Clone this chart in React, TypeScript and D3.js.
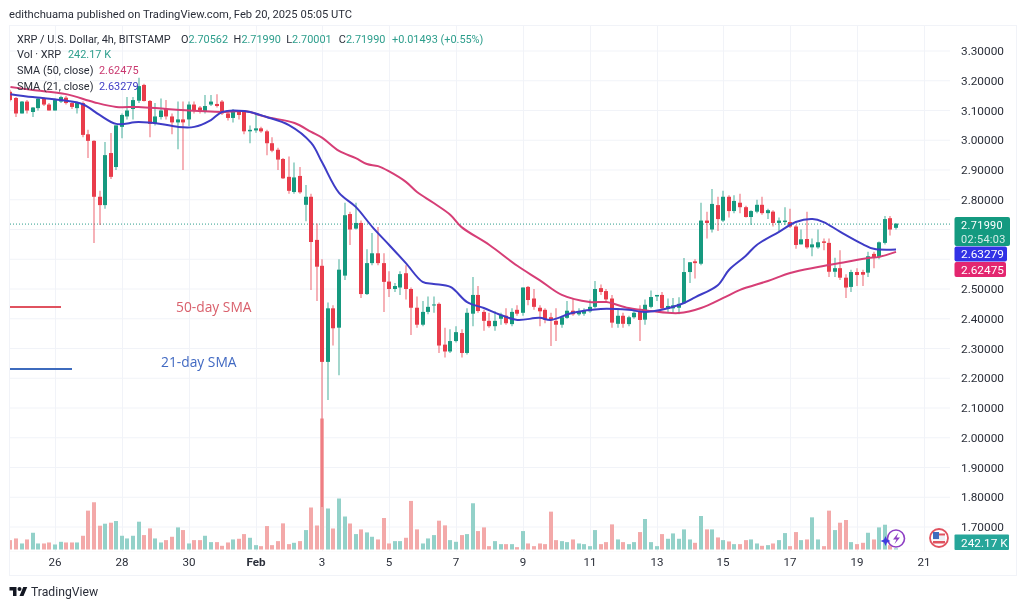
import React, { useEffect } from "react";
import * as d3 from "d3";

const opens = [3.163,3.142,3.09,3.13,3.095,3.108,3.14,3.12,3.10,3.13,3.143,3.125,3.108,3.125,3.02,2.998,2.81,2.782,2.957,2.91,3.045,3.08,3.105,3.133,3.186,3.132,3.055,3.078,3.105,3.08,3.06,3.07,3.07,3.12,3.11,3.095,3.12,3.122,3.13,3.09,3.075,3.095,3.095,3.03,3.033,3.04,3.03,2.99,2.968,2.937,2.877,2.826,2.88,2.783,2.81,2.665,2.578,2.255,2.435,2.37,2.545,2.752,2.703,2.722,2.483,2.587,2.62,2.587,2.525,2.50,2.505,2.553,2.50,2.437,2.38,2.423,2.445,2.45,2.313,2.29,2.325,2.352,2.285,2.417,2.48,2.423,2.393,2.375,2.40,2.41,2.382,2.43,2.42,2.507,2.468,2.437,2.43,2.405,2.393,2.38,2.403,2.427,2.415,2.417,2.425,2.44,2.503,2.493,2.468,2.383,2.41,2.382,2.405,2.425,2.397,2.44,2.475,2.48,2.433,2.435,2.437,2.452,2.557,2.593,2.585,2.73,2.70,2.782,2.73,2.81,2.762,2.79,2.775,2.742,2.76,2.783,2.755,2.76,2.722,2.725,2.725,2.71,2.65,2.668,2.64,2.64,2.66,2.655,2.558,2.57,2.538,2.507,2.557,2.557,2.555,2.618,2.607,2.655,2.738,2.70562];
const highs = [3.17,3.145,3.132,3.135,3.112,3.145,3.145,3.125,3.14,3.15,3.15,3.13,3.13,3.13,3.035,3.0,2.83,2.994,3.024,3.05,3.09,3.145,3.145,3.21,3.19,3.135,3.125,3.14,3.135,3.09,3.13,3.13,3.13,3.13,3.115,3.152,3.152,3.155,3.135,3.095,3.105,3.10,3.10,3.05,3.09,3.045,3.035,3.01,2.975,2.94,2.945,2.925,2.91,2.85,2.82,2.72,2.60,2.455,2.445,2.60,2.79,2.76,2.79,2.73,2.634,2.688,2.708,2.62,2.56,2.52,2.56,2.58,2.505,2.475,2.46,2.475,2.475,2.455,2.37,2.365,2.375,2.365,2.435,2.54,2.51,2.43,2.42,2.425,2.42,2.435,2.435,2.445,2.505,2.51,2.50,2.445,2.435,2.42,2.435,2.41,2.46,2.47,2.435,2.435,2.465,2.527,2.515,2.50,2.48,2.435,2.42,2.41,2.425,2.445,2.465,2.495,2.48,2.49,2.468,2.47,2.472,2.604,2.59,2.60,2.79,2.76,2.836,2.81,2.83,2.815,2.815,2.82,2.78,2.765,2.80,2.81,2.77,2.765,2.74,2.775,2.77,2.715,2.70,2.76,2.67,2.70,2.67,2.67,2.605,2.63,2.55,2.565,2.57,2.565,2.625,2.625,2.66,2.745,2.745,2.7199];
const lows = [3.13,3.078,3.09,3.09,3.078,3.10,3.115,3.10,3.10,3.125,3.12,3.105,3.09,3.01,2.94,2.655,2.715,2.77,2.87,2.90,3.007,3.07,3.07,3.125,3.13,3.01,3.05,3.07,3.07,3.02,2.97,2.90,3.048,3.09,3.09,3.09,3.115,3.11,3.085,3.066,3.06,3.07,3.02,2.99,3.025,3.025,2.95,2.96,2.90,2.87,2.82,2.82,2.82,2.728,2.497,2.46,1.767,2.127,2.31,2.21,2.53,2.648,2.70,2.47,2.48,2.58,2.58,2.423,2.473,2.49,2.48,2.465,2.345,2.37,2.375,2.415,2.42,2.285,2.27,2.285,2.32,2.27,2.28,2.375,2.42,2.36,2.37,2.36,2.38,2.38,2.375,2.41,2.41,2.445,2.43,2.375,2.385,2.308,2.325,2.37,2.40,2.41,2.41,2.41,2.42,2.435,2.48,2.455,2.37,2.37,2.37,2.375,2.40,2.325,2.38,2.435,2.46,2.43,2.42,2.42,2.415,2.45,2.52,2.535,2.58,2.67,2.69,2.695,2.725,2.74,2.755,2.755,2.74,2.715,2.755,2.75,2.735,2.71,2.695,2.715,2.705,2.635,2.65,2.635,2.61,2.635,2.63,2.54,2.54,2.53,2.47,2.49,2.51,2.51,2.54,2.57,2.60,2.65,2.68,2.70001];
const closes = [3.135,3.09,3.13,3.10,3.11,3.14,3.12,3.10,3.135,3.145,3.125,3.112,3.125,3.018,2.998,2.81,2.782,2.95,2.877,3.05,3.085,3.10,3.135,3.182,3.132,3.055,3.08,3.10,3.08,3.06,3.07,3.06,3.12,3.10,3.095,3.115,3.13,3.115,3.09,3.075,3.098,3.085,3.03,3.035,3.04,3.03,2.99,2.965,2.935,2.872,2.83,2.875,2.825,2.81,2.658,2.575,2.255,2.435,2.368,2.565,2.748,2.70,2.722,2.483,2.587,2.62,2.587,2.524,2.50,2.51,2.55,2.50,2.437,2.38,2.423,2.44,2.448,2.31,2.29,2.325,2.355,2.285,2.42,2.48,2.426,2.393,2.375,2.393,2.413,2.385,2.423,2.417,2.505,2.463,2.44,2.425,2.397,2.395,2.38,2.405,2.427,2.415,2.425,2.426,2.44,2.50,2.49,2.465,2.387,2.41,2.383,2.405,2.42,2.396,2.447,2.473,2.48,2.435,2.443,2.445,2.45,2.557,2.59,2.587,2.73,2.722,2.786,2.735,2.81,2.762,2.796,2.775,2.742,2.762,2.783,2.755,2.765,2.722,2.73,2.73,2.71,2.648,2.667,2.64,2.65,2.657,2.655,2.558,2.57,2.538,2.505,2.557,2.547,2.548,2.61,2.605,2.657,2.735,2.70,2.7199];
const volumes = [1876,2211,1206,2010,3350,1206,1206,1407,1005,1541,1407,1407,1407,2747,7772,9447,4757,5159,5360,5695,2747,2211,2747,5561,2881,4221,2211,1407,1876,2546,4422,3886,1206,1876,1876,2747,1474,1474,737,1407,2010,2144,3082,2345,871,670,4690,871,1675,5226,1072,1340,1675,3886,8400,4800,26200,8200,4200,10200,6600,5200,3082,4020,3417,2546,2010,6298,1206,1675,1675,2345,9715,4020,1206,2211,2881,5762,4824,1876,1541,2881,3082,9246,3685,4422,670,1675,1072,1072,1072,469,3685,1206,670,1206,1072,7571,1876,1675,1474,2010,1206,1072,670,3886,1072,1474,5025,2010,1474,1072,1474,3484,6097,1474,670,3082,2144,3216,2144,4020,2010,1340,6700,4020,4020,2412,1876,1608,1072,1072,1876,2010,1206,737,871,1206,1876,3283,670,3484,1876,2010,6432,2010,670,7772,3886,5360,5896,1474,1072,1340,3350,2010,4422,4958,871,242];

const sma50Index = [0,4,10,15,19,23,28,34,38,42,46,51,54,56,59,62,64,66,68,71,73,76,79,81,86,91,95,99,104,107,111,115,120,124,128,131,136,140,145,150,154,156,159];
const sma50Values = [3.179,3.169,3.155,3.128,3.112,3.112,3.105,3.098,3.095,3.098,3.078,3.058,3.028,3.008,2.964,2.94,2.92,2.913,2.895,2.86,2.826,2.789,2.749,2.708,2.648,2.578,2.53,2.48,2.456,2.456,2.436,2.426,2.419,2.436,2.47,2.497,2.527,2.554,2.574,2.591,2.604,2.608,2.62475];
const sma21Index = [0,4,9,13,16,19,23,27,30,33,36,38,42,46,50,54,56,59,62,65,68,71,74,76,79,82,85,88,91,95,97,101,106,111,114,120,123,127,129,132,134,138,141,144,146,149,153,155,159];
const sma21Values = [3.155,3.145,3.135,3.121,3.085,3.055,3.061,3.055,3.045,3.045,3.068,3.095,3.098,3.078,3.051,2.991,2.924,2.823,2.776,2.708,2.648,2.587,2.524,2.517,2.507,2.456,2.436,2.413,2.396,2.403,2.396,2.42,2.433,2.43,2.423,2.446,2.473,2.513,2.564,2.611,2.648,2.692,2.725,2.735,2.725,2.692,2.651,2.635,2.63279];

const priceTicks = [3.3,3.2,3.1,3.0,2.9,2.8,2.5,2.4,2.3,2.2,2.1,2.0,1.9,1.8,1.7];
const gridPrices = [3.3,3.2,3.1,3.0,2.9,2.8,2.7,2.6,2.5,2.4,2.3,2.2,2.1,2.0,1.9,1.8,1.7];
const timeIndex = [8,20,32,44,56,68,80,92,104,116,128,140,152,164];
const timeLabels = ["26","28","30","Feb","3","5","7","9","11","13","15","17","19","21"];
const legendOHLC = [["O","2.70562"],["H","2.71990"],["L","2.70001"],["C","2.71990"]];
const lastPrice = 2.7199;
const lastVolume = "242.17 K";
const countdown = "02:54:03";
const sma21Last = "2.63279";
const sma50Last = "2.62475";

const UP = "#16997f", DOWN = "#e93c4b", VUP = "#93d1c9", VDOWN = "#f3a9a9";
const BLUE = "#3e3cc6", PINK = "#d63e76", GRID = "#f1f3f8", TEXT = "#2a2e39", TEAL = "#2d9e8c";
const FONT = "Roboto, 'Open Sans', sans-serif";

const x = d3.scaleLinear().domain([0, 159]).range([10.44, 896]);
const y = d3.scaleLinear().domain([1.7, 3.3]).range([527, 51]);
const vy = d3.scaleLinear().domain([0, 26200]).range([549.5, 418.5]);

export default function App() {
  useEffect(() => { document.body.style.margin = "0"; }, []);
  const lineOf = (idx: number[], vals: number[]) =>
    d3.line<number>().x((_, i) => x(idx[i])).y((d) => y(d)).curve(d3.curveCatmullRom.alpha(0.5))(vals) as string;
  const boxY = y(lastPrice);
  return (
    <svg width={1024} height={608} style={{ display: "block", background: "#fff", fontFamily: FONT, filter: "blur(0.35px)" }}>
      <defs>
        <clipPath id="plot"><rect x={10} y={26} width={940} height={525} /></clipPath>
      </defs>
      <text x={9} y={17.5} fontSize={11.2} fill={TEXT}>edithchuama published on TradingView.com, Feb 20, 2025 05:05 UTC</text>
      <rect x={9.5} y={25.5} width={1007} height={550} fill="none" stroke={GRID} />
      {gridPrices.map((p) => <line key={p} x1={10} x2={950} y1={y(p)} y2={y(p)} stroke={GRID} />)}
      {timeIndex.map((t) => <line key={t} x1={Math.round(x(t)) + 0.5} x2={Math.round(x(t)) + 0.5} y1={26} y2={551} stroke={GRID} />)}
      <line x1={10} x2={950} y1={551.5} y2={551.5} stroke="#fafafa" />

      <g clipPath="url(#plot)">
        {volumes.map((v, i) => (
          <rect key={i} x={Math.round(x(i)) - 2} y={vy(v)} width={4} height={549.5 - vy(v)} fill={closes[i] >= opens[i] ? VUP : VDOWN} />
        ))}
        <line x1={10} x2={950} y1={boxY + 0.5} y2={boxY + 0.5} stroke={TEAL} strokeDasharray="1 2" />
        {opens.map((o, i) => {
          const c = closes[i];
          const col = c >= o ? UP : DOWN;
          const cx = Math.round(x(i));
          const top = y(Math.max(o, c));
          const h = Math.max(1, y(Math.min(o, c)) - top);
          return (
            <g key={i}>
              <line x1={cx} x2={cx} y1={y(highs[i])} y2={y(lows[i])} stroke={col} strokeWidth={1.1} strokeOpacity={0.72} />
              <rect x={cx - 2} y={top} width={4} height={h} fill={col} />
            </g>
          );
        })}
        <path d={lineOf(sma50Index, sma50Values)} fill="none" stroke={PINK} strokeWidth={2} />
        <path d={lineOf(sma21Index, sma21Values)} fill="none" stroke={BLUE} strokeWidth={2} />
      </g>

      <g fontSize={10.9} fill={TEXT}>
        <text x={17} y={42.5}>XRP / U.S. Dollar, 4h, BITSTAMP</text>
        {legendOHLC.map(([k, v], i) => (
          <text key={k} x={181 + i * 52.6} y={42.5}>{k}<tspan fill={TEAL}>{v}</tspan></text>
        ))}
        <text x={392} y={42.5} fill={TEAL}>+0.01493 (+0.55%)</text>
        <text x={17} y={58}>Vol · XRP</text>
        <text x={68} y={58} fill={TEAL}>242.17 K</text>
        <text x={17} y={74}>SMA (50, close)</text>
        <text x={99} y={74} fill="#c9386f">{sma50Last}</text>
        <text x={17} y={90}>SMA (21, close)</text>
        <text x={99} y={90} fill={BLUE}>{sma21Last}</text>
      </g>

      <g fontSize={13.8} fontFamily="'Open Sans', sans-serif">
        <line x1={10} x2={61} y1={307} y2={307} stroke="#e0525f" strokeWidth={1.8} />
        <text x={176} y={312} fill="#d9606c">50-day SMA</text>
        <line x1={10} x2={72} y1={369} y2={369} stroke="#3d6bbd" strokeWidth={1.8} />
        <text x={161} y={367} fill="#4169c2">21-day SMA</text>
      </g>

      <g fontSize={11.8} fill={TEXT}>
        {priceTicks.map((p) => <text key={p} x={961} y={y(p) + 4.2}>{p.toFixed(5)}</text>)}
      </g>
      <g fontSize={11.6} fill={TEXT} textAnchor="middle">
        {timeIndex.map((t, i) => (
          <text key={t} x={Math.round(x(t))} y={566} fontWeight={timeLabels[i] === "Feb" ? 700 : 400}>{timeLabels[i]}</text>
        ))}
      </g>

      <rect x={954.5} y={217} width={55.5} height={29} rx={2} fill="#149a80" />
      <text x={961} y={229} fontSize={10.9} letterSpacing={0.35} fill="#fff">{lastPrice.toFixed(5)}</text>
      <text x={961} y={242.5} fontSize={10.9} letterSpacing={0.35} fill="#d5eee9">{countdown}</text>
      <rect x={954.5} y={246.5} width={52.5} height={15} rx={2} fill="#3232e6" />
      <text x={961} y={258} fontSize={11.8} fill="#fff">{sma21Last}</text>
      <rect x={954.5} y={262} width={51.5} height={15} rx={2} fill="#e3266f" />
      <text x={961} y={274} fontSize={11.8} fill="#fff">{sma50Last}</text>
      <rect x={954.5} y={534.5} width={54.5} height={15.5} rx={1} fill="#26a69a" />
      <text x={961} y={546.5} fontSize={11.8} fill="#fff">{lastVolume}</text>

      <circle cx={896} cy={538.5} r={8.5} fill="#fff" stroke="#8e3fc4" strokeWidth={1.6} />
      <path d="M898.5 532.5 L893 539.5 L896.5 539.5 L894.5 544 L900 537.5 L896.5 537.5 Z" fill="#8e3fc4" />
      <path d="M885.5 536 L887 539.5 L890.5 541 L887 542.5 L885.5 546 L884 542.5 L880.5 541 L884 539.5 Z" fill="#3e3ce0" />

      <circle cx={939} cy={538} r={9} fill="#fff" stroke="#e0525f" strokeWidth={1.8} />
      <rect x={933} y={535.5} width={12} height={5} fill="#eef1f5" />
      <rect x={933} y={541} width={12} height={2.5} fill="#e0525f" />
      <rect x={933} y={532} width={6} height={7} fill="#3d6bbd" />
      <rect x={939} y={533.5} width={6} height={2} fill="#e0525f" />

      <g transform="translate(9.5,585) scale(0.5)" fill="#131722">
        <path d="M14 22H7V11H0V4h14v18zM28 22h-8l7.5-18h8L28 22z" />
        <circle cx={20} cy={8} r={4} />
      </g>
      <text x={31} y={596} fontSize={12.2} fill="#2a2e39">TradingView</text>
    </svg>
  );
}
